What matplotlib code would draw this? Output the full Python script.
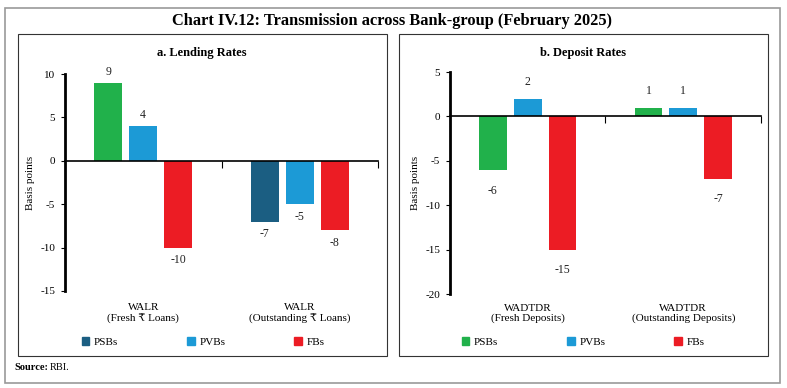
import numpy as np
import matplotlib.pyplot as plt
from matplotlib.patches import Rectangle, Patch

plt.rcParams['font.family'] = ['Liberation Serif', 'DejaVu Serif']

groups_a = ['WALR\n(Fresh ₹ Loans)', 'WALR\n(Outstanding ₹ Loans)']
groups_b = ['WADTDR\n(Fresh Deposits)', 'WADTDR\n(Outstanding Deposits)']
banks = ['PSBs', 'PVBs', 'FBs']
lending = {'PSBs': [9, -7], 'PVBs': [4, -5], 'FBs': [-10, -8]}
deposit = {'PSBs': [-6, 1], 'PVBs': [2, 1], 'FBs': [-15, -7]}

green = '#21B14B'
lblue = '#1C9AD6'
red = '#EC1C24'
dblue = '#1B5E82'

W, H = 787, 388
fig = plt.figure(figsize=(W / 100, H / 100), dpi=100)

def px(x0, y0, x1, y1):
    # pixel box (top-left origin) -> figure fraction
    return [x0 / W, 1 - y1 / H, (x1 - x0) / W, (y1 - y0) / H]

# frames
fig.add_artist(Rectangle((5 / W, 1 - 383 / H), 775 / W, 375 / H, transform=fig.transFigure,
                         fill=False, ec='#9a9a9a', lw=1.2))
fig.add_artist(Rectangle((18 / W, 1 - 356 / H), 369 / W, 322 / H, transform=fig.transFigure,
                         fill=False, ec='#333333', lw=0.8))
fig.add_artist(Rectangle((399 / W, 1 - 356 / H), 369 / W, 322 / H, transform=fig.transFigure,
                         fill=False, ec='#333333', lw=0.8))

fig.text(392 / W, 1 - 21 / H, 'Chart IV.12: Transmission across Bank-group (February 2025)',
         ha='center', va='center', fontsize=11.8, fontweight='bold')
fig.text(14 / W, 1 - 368 / H, 'Source:', ha='left', va='center', fontsize=7.5, fontweight='bold')
fig.text(50 / W, 1 - 368 / H, 'RBI.', ha='left', va='center', fontsize=7.5)


def panel(box, data, colors, groups, ylim, yticks, title, title_y, pos_off, neg_off,
          leg_handles, leg_x):
    ax = fig.add_axes(px(*box))
    x = np.arange(len(groups))
    offs = [-0.224, 0, 0.224]
    for i, b in enumerate(banks):
        vals = data[b]
        for j, v in enumerate(vals):
            ax.bar(x[j] + offs[i], v, width=0.179, color=colors[i][j], zorder=2)
            off = pos_off if v >= 0 else -neg_off
            ax.annotate(str(v), (x[j] + offs[i], v), xytext=(0, off), textcoords='offset points',
                        ha='center', va='center', fontsize=8.5, color='#222222')
    ax.set_xlim(-0.5, 1.5)
    ax.set_ylim(*ylim)
    ax.set_yticks(yticks)
    ax.set_yticklabels([str(t) for t in yticks], fontsize=8)
    ax.spines['top'].set_visible(False)
    ax.spines['right'].set_visible(False)
    ax.spines['left'].set_linewidth(2)
    ax.spines['bottom'].set_position(('data', 0))
    ax.spines['bottom'].set_linewidth(1.2)
    ax.set_xticks([0.5, 1.5])
    ax.set_xticklabels(['', ''])
    ax.tick_params(axis='x', length=5, width=0.8, direction='out')
    ax.tick_params(axis='y', length=3, width=0.8, pad=4)
    ax.set_facecolor('none')
    ax.set_ylabel('Basis points', fontsize=8, labelpad=4)
    # category labels placed in pixel rows under the plot
    bbox = ax.get_position()
    for j, g in enumerate(groups):
        xf = bbox.x0 + bbox.width * (x[j] + 0.5) / 2.0
        fig.text(xf, 1 - 313.5 / H, g, ha='center', va='center', fontsize=8, linespacing=1.15)
    fig.text(title_y[0] / W, 1 - title_y[1] / H, title, ha='center', va='center',
             fontsize=9, fontweight='bold')
    fig.legend(handles=leg_handles, loc='center', bbox_to_anchor=(leg_x / W, 1 - 342 / H),
               ncol=3, frameon=False, fontsize=8, handlelength=0.7, handleheight=0.7,
               handletextpad=0.4, columnspacing=6.2)
    return ax


cols_a = [[green, dblue], [lblue, lblue], [red, red]]
cols_b = [[green, green], [lblue, lblue], [red, red]]

panel((65, 74, 378, 291), lending, cols_a, groups_a, (-15, 10), [-15, -10, -5, 0, 5, 10],
      'a. Lending Rates', (202, 53), 8, 9,
      [Patch(color=dblue, label='PSBs'), Patch(color=lblue, label='PVBs'),
       Patch(color=red, label='FBs')], 203)
panel((450, 72, 761, 294), deposit, cols_b, groups_b, (-20, 5), [-20, -15, -10, -5, 0, 5],
      'b. Deposit Rates', (583, 53), 12, 15,
      [Patch(color=green, label='PSBs'), Patch(color=lblue, label='PVBs'),
       Patch(color=red, label='FBs')], 583)

fig.savefig('out.png', dpi=100)
